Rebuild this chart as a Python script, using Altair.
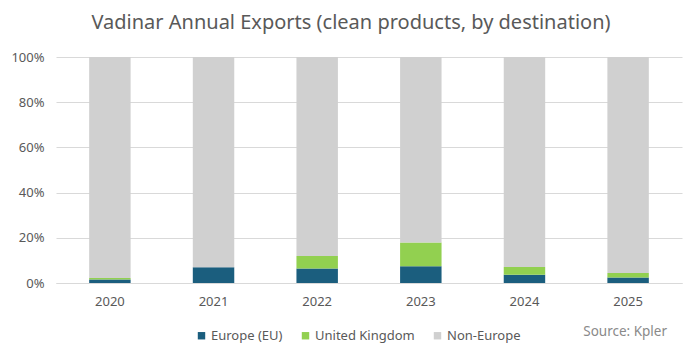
import altair as alt
import pandas as pd

years = ["2020", "2021", "2022", "2023", "2024", "2025"]
eu = [1.5, 7.0, 6.4, 7.4, 3.7, 2.4]
uk = [0.7, 0.0, 5.5, 10.5, 3.4, 2.0]
non_europe = [round(100 - a - b, 1) for a, b in zip(eu, uk)]
series = ["Europe (EU)", "United Kingdom", "Non-Europe"]
colors = ["#1b5e7e", "#92d050", "#d0d0d0"]

rows = []
for i, y in enumerate(years):
    for k, (name, vals) in enumerate(zip(series, [eu, uk, non_europe])):
        rows.append({"year": y, "series": name, "value": vals[i], "order": k})
df = pd.DataFrame(rows)

grey = "#595959"
font = "Noto Sans"

bars = alt.Chart(df).mark_bar().encode(
    x=alt.X("year:N", title=None, sort=years,
            scale=alt.Scale(paddingInner=0.6, paddingOuter=0.32),
            axis=alt.Axis(labelAngle=0, ticks=False, domainColor="#d9d9d9",
                          labelColor=grey, labelFontSize=13, labelFont=font,
                          labelPadding=12)),
    y=alt.Y("value:Q", stack="normalize", title=None,
            scale=alt.Scale(domain=[0, 1]),
            axis=alt.Axis(format=".0%", values=[0, 0.2, 0.4, 0.6, 0.8, 1.0],
                          domain=False, ticks=False, gridColor="#d9d9d9",
                          labelColor=grey, labelFontSize=13, labelFont=font,
                          labelPadding=12)),
    color=alt.Color("series:N", sort=series,
                    scale=alt.Scale(domain=series, range=colors),
                    legend=alt.Legend(title=None, orient="none", direction="horizontal",
                                      legendX=139, legendY=272, symbolType="square",
                                      symbolSize=55, symbolStrokeWidth=0,
                                      labelColor=grey, labelFontSize=13, labelFont=font,
                                      columnPadding=16, labelOffset=3)),
    order=alt.Order("order:Q"),
)

source = alt.Chart(pd.DataFrame({"t": ["Source: Kpler"]})).mark_text(
    align="right", baseline="middle", fontSize=13.5, font=font, color="#8a8a8a"
).encode(text="t:N", x=alt.value(611), y=alt.value(275))

chart = alt.layer(bars, source).properties(
    width=626, height=226,
    autosize=alt.AutoSizeParams(type="none"),
    padding={"left": 48, "top": 49, "right": 10, "bottom": 67},
    title=alt.TitleParams("Vadinar Annual Exports (clean products, by destination)",
                          fontSize=20, font=font, fontWeight="normal", color=grey,
                          anchor="middle", dx=-18, offset=18),
).configure_view(stroke=None)

chart.save("out.html", embed_options={"renderer": "svg", "actions": False})
